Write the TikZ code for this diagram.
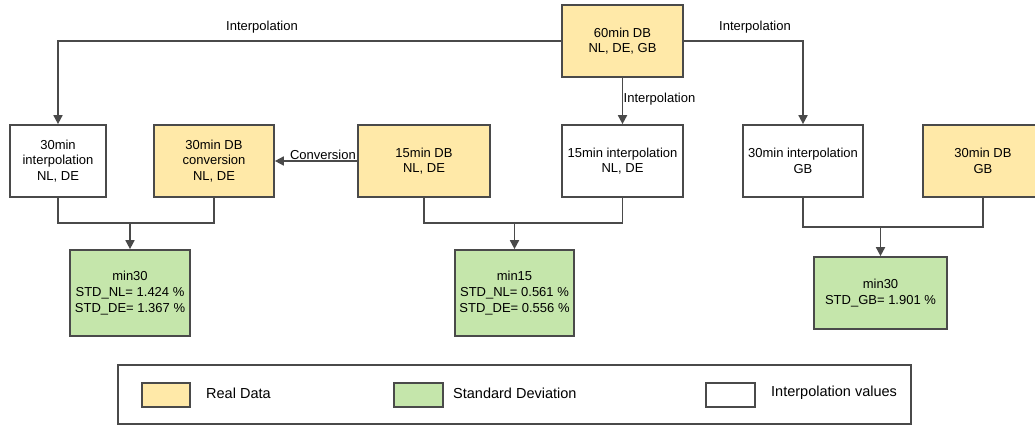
\documentclass[tikz,border=0pt]{standalone}
\usepackage{fontspec}
\setmainfont{Liberation Sans}
\usetikzlibrary{arrows.meta}
\definecolor{realfill}{HTML}{FFE9A8}
\definecolor{stdfill}{HTML}{C5E6AB}
\definecolor{edge}{HTML}{4A4A4A}
\tikzset{
  box/.style={draw=edge, line width=1.7pt, inner sep=0pt, align=center,
    font=\fontsize{13}{15.7}\selectfont, text=black},
  realbox/.style={box, fill=realfill},
  stdbox/.style={box, fill=stdfill},
  interbox/.style={box, fill=white},
  conn/.style={draw=edge, line width=1.7pt},
  arr/.style={conn, -{Triangle[length=9pt,width=9pt]}},
  lbl/.style={font=\fontsize{13}{15.7}\selectfont, inner sep=1pt, text=black},
  keylbl/.style={font=\fontsize{14.5}{17}\selectfont, inner sep=1pt, text=black},
}
\begin{document}
\begin{tikzpicture}[x=1pt, y=-1pt]
\useasboundingbox (0,0) rectangle (1035,425);
\begin{scope}
\clip (0,0) rectangle (1035,425);
% source database
\node[realbox, minimum width=121pt, minimum height=72pt] (d60) at (622.5,41) {60min DB\\NL, DE, GB};
% second row
\node[interbox, minimum width=96pt, minimum height=72pt] (i30) at (58,161) {30min\\interpolation\\NL, DE};
\node[realbox, minimum width=120pt, minimum height=72pt] (c30) at (214,161) {30min DB\\conversion\\NL, DE};
\node[realbox, minimum width=132pt, minimum height=72pt] (d15) at (424,161) {15min DB\\NL, DE};
\node[interbox, minimum width=121pt, minimum height=72pt] (i15) at (622.5,161) {15min interpolation\\NL, DE};
\node[interbox, minimum width=120pt, minimum height=72pt] (i30gb) at (803,161) {30min interpolation\\GB};
\node[realbox, minimum width=120pt, minimum height=72pt] (d30gb) at (983,161) {30min DB\\GB};
% standard deviation results
\node[stdbox, minimum width=120pt, minimum height=86pt] (s30) at (130,293) {min30\\STD\_NL= 1.424 \%\\STD\_DE= 1.367 \%};
\node[stdbox, minimum width=119pt, minimum height=86pt] (s15) at (514.5,293) {min15\\STD\_NL= 0.561 \%\\STD\_DE= 0.556 \%};
\node[stdbox, minimum width=133pt, minimum height=72pt] (s30gb) at (880.5,293) {min30\\STD\_GB= 1.901 \%};

% interpolation arrows from the 60min database
\coordinate (tl) at (58,41);
\coordinate (tr) at (803,41);
\draw[arr] (d60.west) -- (tl) -- (i30.north);
\draw[arr] (d60.east) -- (tr) -- (i30gb.north);
\draw[arr] (d60.south) -- (i15.north);
\node[lbl] (lt1) at (262,27) {Interpolation};
\node[lbl] (lt2) at (755,27) {Interpolation};
\node[lbl, anchor=west] (lt3) at (622.5,99) {Interpolation};
% conversion arrow
\draw[arr] (d15.west) -- (c30.east);
\node[lbl, anchor=south east] (lc) at (357,161) {Conversion};

% joins into the result boxes
\coordinate (j1) at (130,223);
\coordinate (j2) at (514.5,223);
\coordinate (j3) at (880.5,227);
\draw[conn] (i30.south) |- (j1) -| (c30.south);
\draw[arr] (j1) -- (s30.north);
\draw[conn] (d15.south) |- (j2) -| (i15.south);
\draw[arr] (j2) -- (s15.north);
\draw[conn] (i30gb.south) |- (j3) -| (d30gb.south);
\draw[arr] (j3) -- (s30gb.north);
\end{scope}

% legend
\node[box, fill=white, minimum width=793pt, minimum height=59pt] (legend) at (514.5,394.5) {};
\node[realbox, minimum width=48pt, minimum height=24pt] (k1) at (166,395) {};
\node[keylbl, anchor=west] (t1) at (205,393) {Real Data};
\node[stdbox, minimum width=49pt, minimum height=24pt] (k2) at (418.5,395) {};
\node[keylbl, anchor=west] (t2) at (452,393) {Standard Deviation};
\node[interbox, minimum width=49pt, minimum height=24pt] (k3) at (730.5,395) {};
\node[keylbl, anchor=west] (t3) at (770,393) {Interpolation values};
\end{tikzpicture}
\end{document}
